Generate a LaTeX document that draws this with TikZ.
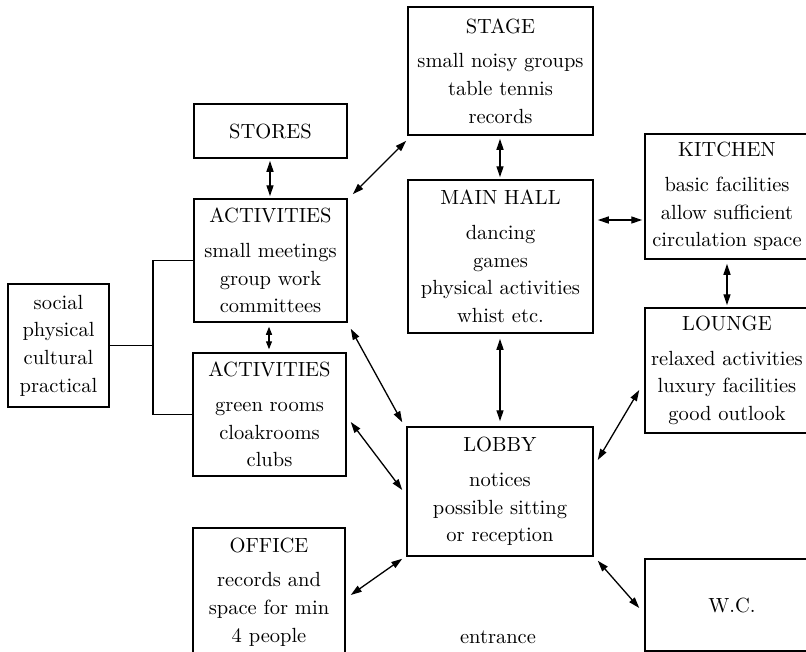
\documentclass[tikz,border=0pt]{standalone}
\usepackage{fontspec}
\setmainfont{lmroman10-regular.otf}
\usetikzlibrary{arrows.meta}
\newcommand\fsz{\fontsize{20.5}{27.7}\selectfont}
\begin{document}
\begin{tikzpicture}[x=1pt,y=-1pt,
  box/.style={draw, line width=1.5pt, align=center, inner sep=0pt, font=\fsz},
  dbl/.style={{Triangle[length=11pt,width=7pt]}-{Triangle[length=11pt,width=7pt]}, line width=1.3pt},
  shortdbl/.style={{Triangle[length=8pt,width=6pt]}-{Triangle[length=8pt,width=6pt]}, line width=1.3pt}]
\clip (0,0) rectangle (806,651);
\node[box, minimum width=101pt, minimum height=123pt] (social) at (58.5,345.5) {social\\physical\\cultural\\practical};
\node[box, minimum width=153pt, minimum height=54pt] (stores) at (270.5,131) {STORES};
\node[box, minimum width=153pt, minimum height=123pt] (act1) at (270.5,260.5) {ACTIVITIES\\[7pt]small meetings\\group work\\committees};
\node[box, minimum width=153pt, minimum height=123pt] (act2) at (269.5,414.5) {ACTIVITIES\\[7pt]green rooms\\cloakrooms\\clubs};
\node[box, minimum width=152pt, minimum height=128pt] (office) at (269,592) {OFFICE\\[7pt]records and\\space for min\\4 people};
\node[box, minimum width=185pt, minimum height=128pt] (stage) at (500.5,71) {STAGE\\[7pt]small noisy groups\\table tennis\\records};
\node[box, minimum width=185pt, minimum height=153pt] (main) at (500.5,256.5) {MAIN HALL\\[7pt]dancing\\games\\physical activities\\whist etc.};
\node[box, minimum width=186pt, minimum height=129pt] (lobby) at (500,491.5) {LOBBY\\[7pt]notices\\possible sitting\\or reception};
\node[box, minimum width=164pt, minimum height=125pt] (kitchen) at (727,196.5) {KITCHEN\\[7pt]basic facilities\\allow sufficient\\circulation space};
\node[box, minimum width=164pt, minimum height=125pt] (lounge) at (727,370.5) {LOUNGE\\[7pt]relaxed activities\\luxury facilities\\good outlook};
\node[box, minimum width=174pt, minimum height=92pt] (wc) at (732,605) {W.C.};
\node[font=\fsz] (entrance) at (498,637) {entrance};
% bracket
\coordinate (br) at (153,343);
\draw[line width=1.5pt] (act1.west) -| (br) |- (act2.west);
\draw[line width=1.5pt] (social.east) -- (social.east -| br);
% arrows
\draw[dbl] ([shift={(-0.5,2)}]stores.south) -- ([shift={(-0.5,-2)}]act1.north);
\draw[dbl] ([shift={(5,-4)}]act1.north east) -- ([shift={(-1,5)}]stage.south west);
\draw[shortdbl] ([shift={(-1.5,4)}]act1.south) -- ([shift={(-0.5,-3)}]act2.north);
\draw[dbl] ([shift={(3,6)}]act1.south east) -- ([shift={(-4,-4)}]lobby.north west);
\draw[dbl] ([shift={(4,7.5)}]act2.east) -- ([shift={(-4,-1.5)}]lobby.west);
\draw[dbl] ([shift={(5,3)}]office.east) -- ([shift={(-4,2)}]lobby.south west);
\draw[dbl] ([shift={(4,4)}]lobby.south east) -- ([shift={(-5,3)}]wc.west);
\draw[dbl] ([shift={(4,-31.5)}]lobby.east) -- ([shift={(-5,19.5)}]lounge.west);
\draw[dbl] ([shift={(-0.5,3)}]stage.south) -- ([shift={(-0.5,-2)}]main.north);
\draw[dbl] ([shift={(-0.5,5)}]main.south) -- ([shift={(0,-5)}]lobby.north);
\draw[dbl] ([shift={(4,-36.5)}]main.east) -- ([shift={(-2,23.5)}]kitchen.west);
\draw[dbl] ([shift={(0,4)}]kitchen.south) -- ([shift={(0,-2)}]lounge.north);
\end{tikzpicture}
\end{document}
